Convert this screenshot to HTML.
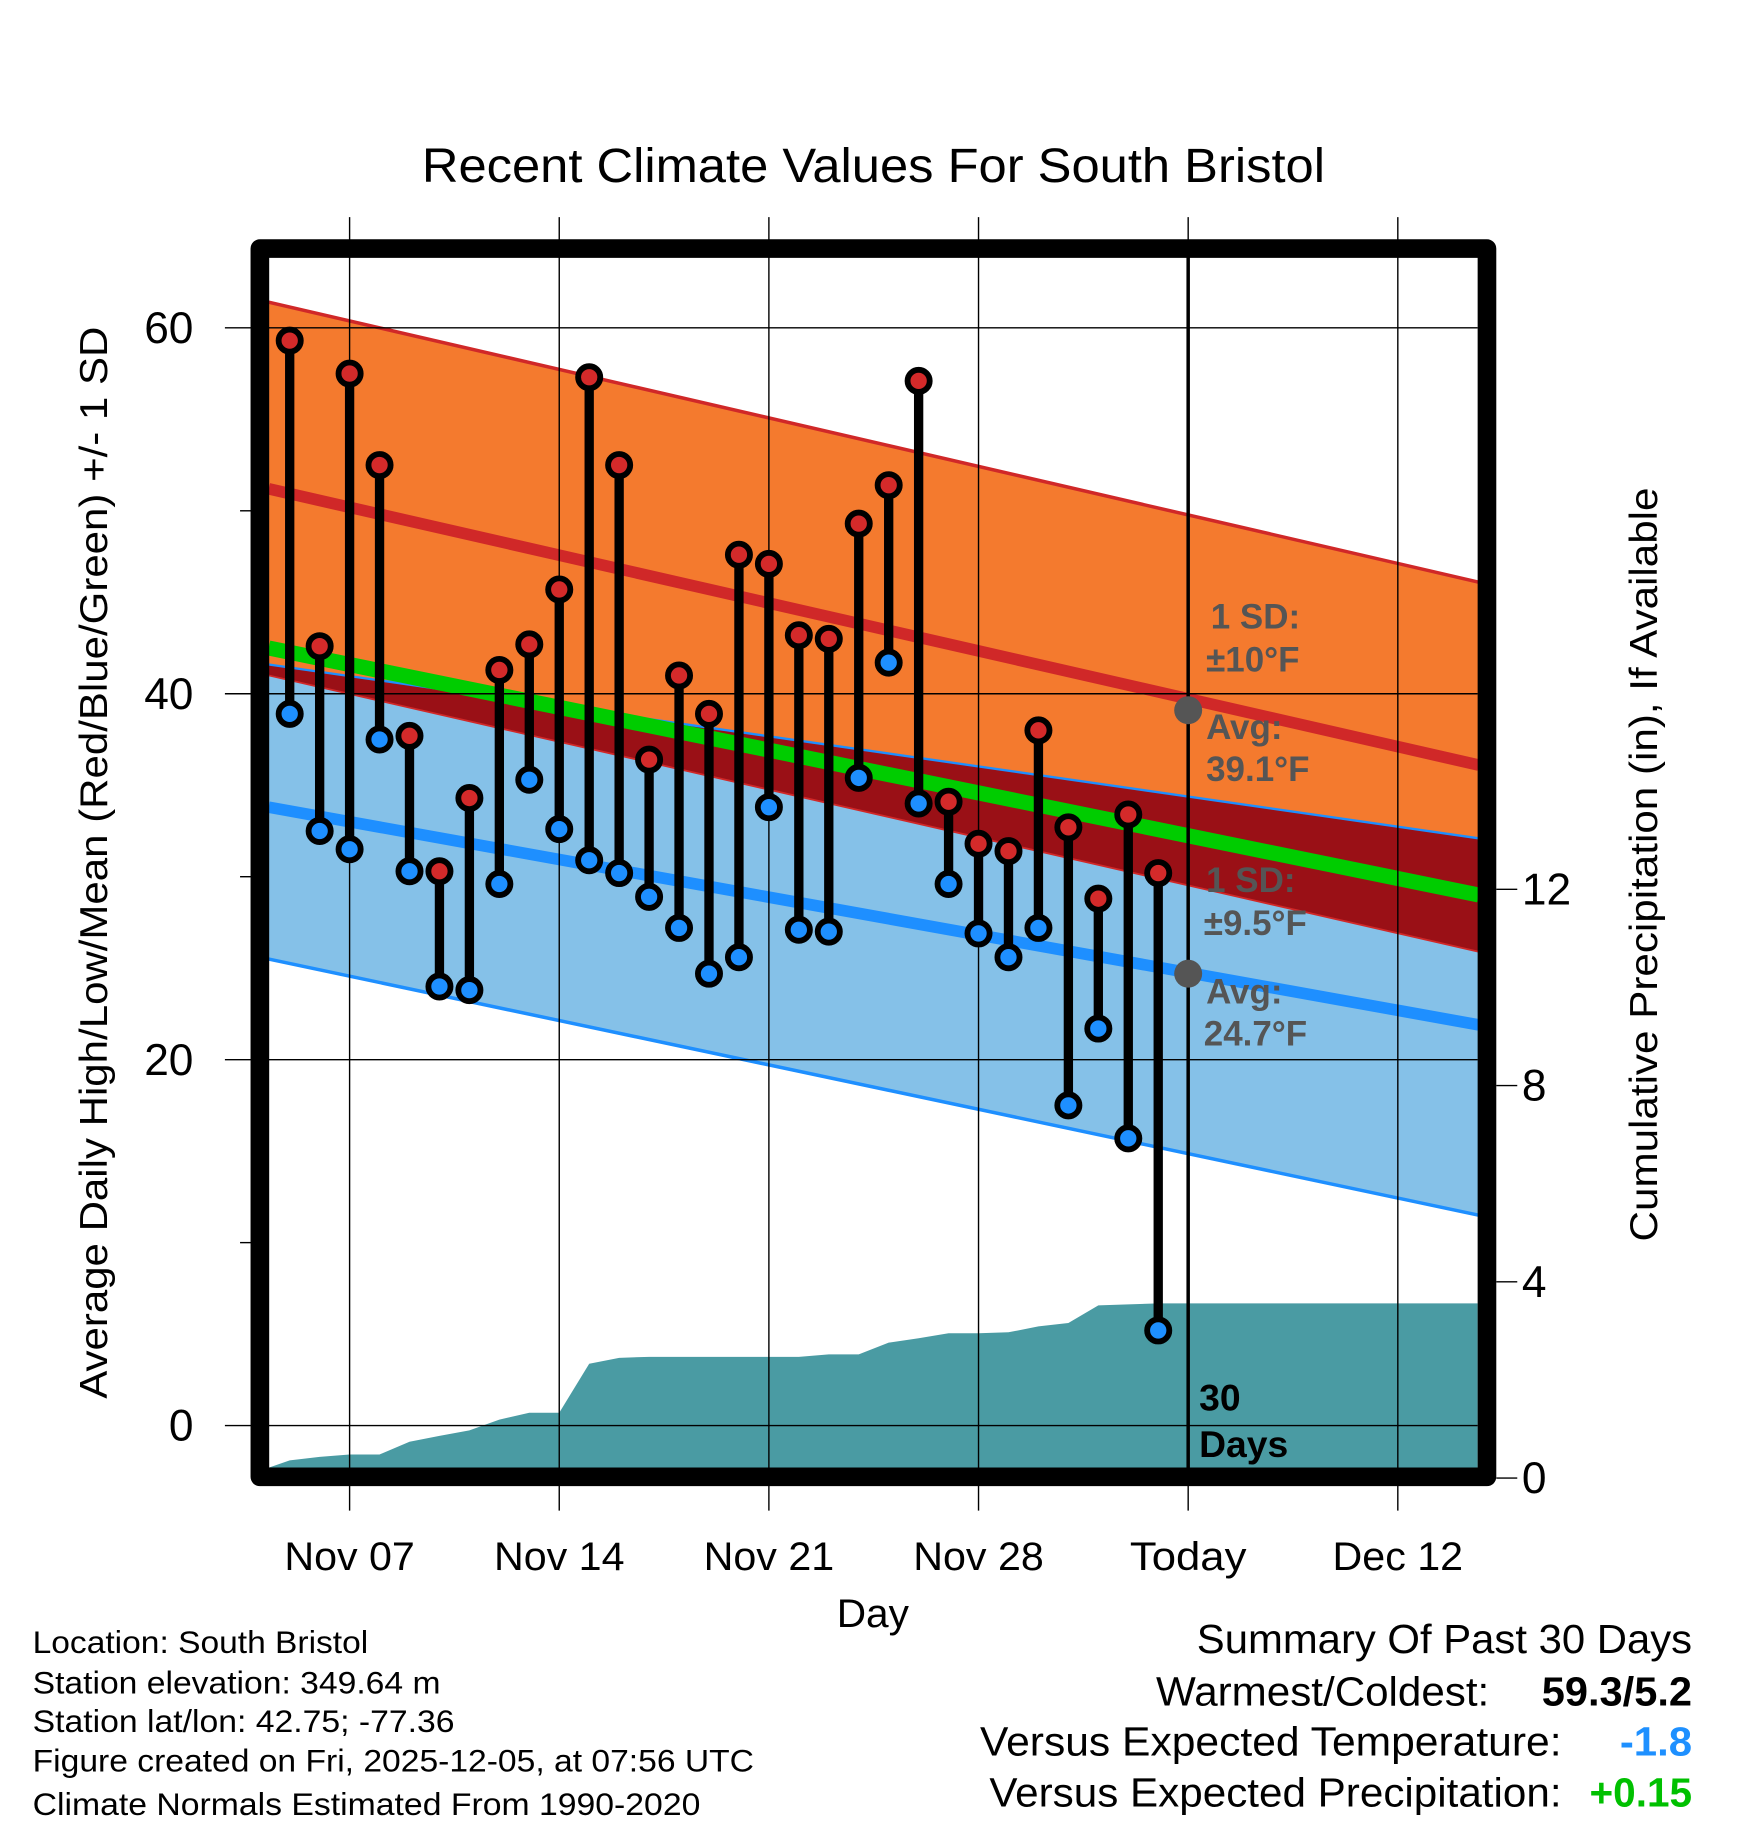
<!DOCTYPE html>
<html><head><meta charset="utf-8"><style>html,body{margin:0;padding:0;background:#fff}svg{display:block}text{font-family:"Liberation Sans",Arial,sans-serif}</style></head>
<body>
<svg id="chart" width="1748" height="1828" viewBox="0 0 1500 1568" xmlns="http://www.w3.org/2000/svg">
<text x="362" y="156" font-size="41" textLength="775" lengthAdjust="spacingAndGlyphs">Recent Climate Values For South Bristol</text>
<g id="bands"></g><g id="grid"></g><g id="marks"></g>
<rect x="223" y="213" width="1053" height="1054" fill="none" stroke="#000" stroke-width="16" stroke-linejoin="round"/>
<g id="axes"></g>
<text transform="translate(92,1200) rotate(-90)" font-size="33" textLength="920" lengthAdjust="spacingAndGlyphs">Average Daily High/Low/Mean (Red/Blue/Green) +/- 1 SD</text>
<text transform="translate(1422,1065) rotate(-90)" font-size="33" textLength="647" lengthAdjust="spacingAndGlyphs">Cumulative Precipitation (in), If Available</text>
<text x="718" y="1396" font-size="34" textLength="62" lengthAdjust="spacingAndGlyphs">Day</text>
<g font-size="27">
<text x="28" y="1418" textLength="288" lengthAdjust="spacingAndGlyphs">Location: South Bristol</text>
<text x="28" y="1453" textLength="350" lengthAdjust="spacingAndGlyphs">Station elevation: 349.64 m</text>
<text x="28" y="1486" textLength="362" lengthAdjust="spacingAndGlyphs">Station lat/lon: 42.75; -77.36</text>
<text x="28" y="1520" textLength="619" lengthAdjust="spacingAndGlyphs">Figure created on Fri, 2025-12-05, at 07:56 UTC</text>
<text x="28" y="1557" textLength="573" lengthAdjust="spacingAndGlyphs">Climate Normals Estimated From 1990-2020</text>
</g>
<g font-size="35">
<text x="1027" y="1418" textLength="425" lengthAdjust="spacingAndGlyphs">Summary Of Past 30 Days</text>
<text x="992" y="1463" textLength="286" lengthAdjust="spacingAndGlyphs">Warmest/Coldest:</text>
<text x="1323" y="1463" font-weight="bold" textLength="129" lengthAdjust="spacingAndGlyphs">59.3/5.2</text>
<text x="841" y="1506" textLength="499" lengthAdjust="spacingAndGlyphs">Versus Expected Temperature:</text>
<text x="1390" y="1506" font-weight="bold" fill="#1e90ff" textLength="62" lengthAdjust="spacingAndGlyphs">-1.8</text>
<text x="849" y="1550" textLength="491" lengthAdjust="spacingAndGlyphs">Versus Expected Precipitation:</text>
<text x="1364" y="1550" font-weight="bold" fill="#00c000" textLength="88" lengthAdjust="spacingAndGlyphs">+0.15</text>
</g>
</svg>
<script>
// day index: 0 = Nov 07
const normDays = [-2.7, 37.7];
const hiMean = [51.2, 36.1];
const hiUp = [61.4, 46.1];
const hiLo = [41.0, 25.9];
const loMean = [33.8, 21.9];
const loUp = [41.6, 32.1];
const loLo = [25.5, 11.5];
const todayNormals = [39.1, 24.7];
const obsDays = [-2,-1,0,1,2,3,4,5,6,7,8,9,10,11,12,13,14,15,16,17,18,19,20,21,22,23,24,25,26,27];
const highs = [59.3,42.6,57.5,52.5,37.7,30.3,34.3,41.3,42.7,45.7,57.3,52.5,36.4,41.0,38.9,47.6,47.1,43.2,43.0,49.3,51.4,57.1,34.1,31.8,31.4,38.0,32.7,28.8,33.4,30.2];
const lows = [38.9,32.5,31.5,37.5,30.3,24.0,23.8,29.6,35.3,32.6,30.9,30.2,28.9,27.2,24.7,25.6,33.8,27.1,27.0,35.4,41.7,34.0,29.6,26.9,25.6,27.2,17.5,21.7,15.7,5.2];
const precip = [0.36,0.43,0.48,0.48,0.74,0.86,0.97,1.19,1.33,1.33,2.33,2.45,2.47,2.47,2.47,2.47,2.47,2.47,2.52,2.52,2.76,2.85,2.95,2.95,2.97,3.09,3.16,3.52,3.54,3.56];
const xTickDays = [0,7,14,21,28,35];
const xTickLabels = ["Nov 07","Nov 14","Nov 21","Nov 28","Today","Dec 12"];
const yTicks = [0,20,40,60];
const yMinor = [10,30,50];
const y2Ticks = [0,4,8,12];
const todayDay = 28;

const X = d => 300 + d*25.7;
const Y = v => 1223 - v*15.7;
const Y2 = p => 1268 - p*42.1;
const L = 231, R = 1268, T = 220, B = 1260;
const NS = "http://www.w3.org/2000/svg";
function mk(tag, attrs, parent){const e=document.createElementNS(NS,tag);for(const k in attrs)e.setAttribute(k,attrs[k]);parent.appendChild(e);return e;}
const pts = (arr, yf) => normDays.map((d,i)=>X(d)+','+yf(arr[i]));
const bands = document.getElementById('bands'), grid=document.getElementById('grid'), marks=document.getElementById('marks'), axes=document.getElementById('axes');

let e;
e = mk('polygon',{points:[...pts(hiUp,Y),...pts(hiLo,Y).reverse()].join(' '),fill:'#f47a2e'},bands);
 
e = mk('polygon',{points:[...pts(loUp,Y),...pts(loLo,Y).reverse()].join(' '),fill:'#85c1e8'},bands);
 
e = mk('polygon',{points:[...pts(loUp,Y),...pts(hiLo,Y).reverse()].join(' '),fill:'#9a1016'},bands);
 
function line(arr,color,w,name){const el=mk('polyline',{points:pts(arr,Y).join(' '),fill:'none',stroke:color,'stroke-width':w},bands);

}
line(hiUp,'#d02828',3,'high-upper-sd-line');
line(hiLo,'#d02828',1.5,'high-lower-sd-line');
line(hiMean,'#d02828',10,'normal-high-line');
line(loUp,'#1e8fff',2,'low-upper-sd-line');
line(loLo,'#1e8fff',3,'low-lower-sd-line');
line(loMean,'#1e8fff',10,'normal-low-line');
line([(hiMean[0]+loMean[0])/2,(hiMean[1]+loMean[1])/2],'#00cc00',13,'normal-mean-line');

let pp = [L+','+B, L+','+(B-1)];
obsDays.forEach((d,i)=>pp.push(X(d)+','+Y2(precip[i])));
pp.push(R+','+Y2(precip[precip.length-1]), R+','+B);
e = mk('polygon',{points:pp.join(' '),fill:'#4a9ba3'},bands);
 

const xLabW = [112,112,112,112,100,112];
xTickDays.forEach((d,i)=>{
  const g=mk('line',{x1:X(d),x2:X(d),y1:186,y2:1296,stroke:'#000','stroke-width':1.2},grid);
  
  
  const t=mk('text',{x:X(d)-xLabW[i]/2,y:1347,'font-size':34,textLength:xLabW[i],lengthAdjust:'spacingAndGlyphs'},axes);
  t.textContent=xTickLabels[i];
  
  
});
yTicks.forEach(v=>{
  const g=mk('line',{x1:193,x2:R,y1:Y(v),y2:Y(v),stroke:'#000','stroke-width':1.2},grid);
  
  
  const t=mk('text',{x:166,y:Y(v)+13,'font-size':38,'text-anchor':'end'},axes);
  t.textContent=v;
  
  
});
yMinor.forEach(v=>{
  const g=mk('line',{x1:206,x2:216,y1:Y(v),y2:Y(v),stroke:'#000','stroke-width':1.2},axes);
  
  
});
y2Ticks.forEach(p=>{
  const g=mk('line',{x1:1284,x2:1302,y1:Y2(p),y2:Y2(p),stroke:'#000','stroke-width':1.2},axes);
  
  
  const t=mk('text',{x:1306,y:Y2(p)+13,'font-size':38},axes);
  t.textContent=p;
  
  
});

obsDays.forEach((d,i)=>{
  const s=mk('line',{x1:X(d),x2:X(d),y1:Y(highs[i]),y2:Y(lows[i]),stroke:'#000','stroke-width':8},marks);
  
  
});
obsDays.forEach((d,i)=>{
  const h=mk('circle',{cx:X(d),cy:Y(highs[i]),r:9.5,fill:'#d42a2a',stroke:'#000','stroke-width':5},marks);
  
  
  const l=mk('circle',{cx:X(d),cy:Y(lows[i]),r:9.5,fill:'#1e8fff',stroke:'#000','stroke-width':5},marks);
  
  
});

e=mk('line',{x1:X(todayDay),x2:X(todayDay),y1:T,y2:B,stroke:'#000','stroke-width':3},marks);
 
e=mk('circle',{cx:X(todayDay),cy:Y(todayNormals[0]),r:12,fill:'#555'},marks);
 
e=mk('circle',{cx:X(todayDay),cy:Y(todayNormals[1]),r:12,fill:'#555'},marks);
 
const ann=[["1 SD:",1039,539],["±10°F",1035,576],["Avg:",1035,634],["39.1°F",1035,670],["1 SD:",1035,765],["±9.5°F",1033,802],["Avg:",1035,861],["24.7°F",1033,897]];
ann.forEach(a=>{
  const t=mk('text',{x:a[1],y:a[2],'font-size':30,'font-weight':'bold',fill:'#555'},marks);
  t.textContent=a[0];
  
  
});
[["30",1210],["Days",1250]].forEach(a=>{
  const t=mk('text',{x:1029,y:a[1],'font-size':32,'font-weight':'bold'},marks);
  t.textContent=a[0];
  
  
});
</script>
</body></html>
